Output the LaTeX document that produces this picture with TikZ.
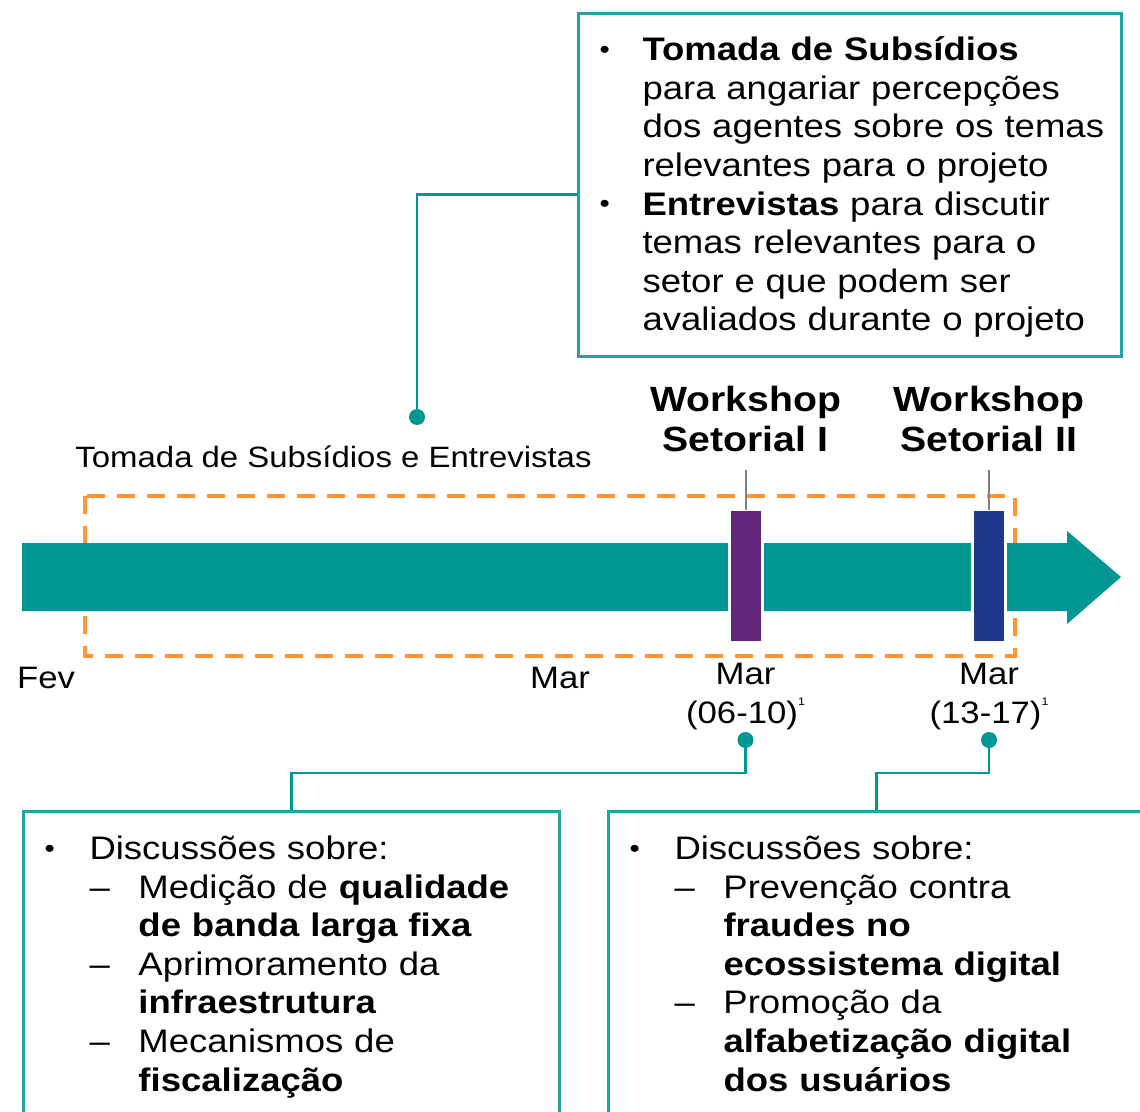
\documentclass[tikz,border=0pt]{standalone}
\usepackage{fontspec}
\setmainfont{Liberation Sans}[FakeStretch=1.12]

\definecolor{tlteal}{RGB}{0,150,146}
\definecolor{tlline}{RGB}{30,165,160}
\definecolor{tlorange}{RGB}{255,150,50}
\definecolor{tlpurple}{RGB}{99,38,125}
\definecolor{tlblue}{RGB}{30,56,140}
\definecolor{tlgray}{RGB}{128,128,128}

\newcommand\boxfont{\fontsize{16.3}{19.3}\selectfont}
\newcommand\labelfont{\fontsize{14.7}{17}\selectfont}
\newcommand\wsfont{\fontsize{17.5}{20}\selectfont\bfseries}
\newcommand\monthfont{\fontsize{15.5}{19.5}\selectfont}
\newcommand\supone{\raisebox{1.1ex}{\fontsize{5.5}{6}\selectfont 1}}
\newcommand\tlbullet{\raisebox{1.1pt}{\scalebox{0.8}{\textbullet}}}
\newcommand\lowered[1]{\raisebox{-1.5pt}[\height][\depth]{#1}}

\begin{document}
\begin{tikzpicture}[x=0.5pt,y=-0.5pt,
  infobox/.style={draw=tlline, line width=1.5pt, anchor=north west, inner xsep=10.5pt, inner ysep=0pt, align=left, font=\boxfont},
  conndot/.style={circle, fill=tlteal, inner sep=0pt, minimum size=8pt},
  link/.style={draw=tlteal, line width=1.3pt},
  wstick/.style={draw=tlgray, line width=1pt},
  periodbox/.style={draw=tlorange, line width=2pt, dash pattern=on 9pt off 6pt},
  wsbar/.style={draw=white, line width=1.5pt, minimum width=16.5pt, minimum height=66.5pt, inner sep=0pt},
  wslabel/.style={font=\wsfont, align=center, anchor=south, inner xsep=0pt, inner ysep=8.75pt},
  month/.style={font=\monthfont, align=center, inner sep=0pt}]
\useasboundingbox (0,0) rectangle (1140,1112);
\clip (0,0) rectangle (1140,1112);

% consulta publica
\node[infobox, text width=250.5pt, minimum height=171.5pt] (sub) at (577,12) {\lowered{%
\begin{tabular}{@{}p{21.5pt}@{}l@{}}
\tlbullet & \textbf{Tomada de Subsídios}\\
 & para angariar percepções\\
 & dos agentes sobre os temas\\
 & relevantes para o projeto\\
\tlbullet & \textbf{Entrevistas} para discutir\\
 & temas relevantes para o\\
 & setor e que podem ser\\
 & avaliados durante o projeto
\end{tabular}}};
\node[conndot] (dsub) at (417,417) {};
\draw[link] ([yshift=-4.75pt]sub.west) -| (dsub);
\node[font=\labelfont, anchor=west, inner sep=0pt] (period) at (75,457) {Tomada de Subsídios e Entrevistas};

% linha do tempo
\draw[periodbox] (85,496) rectangle (1015,656);
\fill[tlteal] (22,543) -- (1067,543) -- (1067,531) -- (1121,577) -- (1067,624) -- (1067,611) -- (22,611) -- cycle;
\node[month] (fev) at (46,678) {Fev};
\node[month] (mar) at (560,678) {Mar};

% workshops
\foreach \w/\x/\wcol/\wnum/\wdate in {1/745.5/tlpurple/I/06-10, 2/989/tlblue/II/13-17}{
  \node[wsbar, fill=\wcol] (ws\w) at (\x,576) {};
  \node[wslabel] (wsl\w) at (\x,470) {Workshop\\Setorial \wnum};
  \draw[wstick] (wsl\w.south) -- ([yshift=-0.75pt]ws\w.north);
  \node[month] (m\w) at (\x,697) {Mar\\(\wdate)\supone};
  \node[conndot] (wsd\w) at (\x,740) {};
}

% discussoes
\node[infobox, text width=247pt, minimum height=153pt] (lbox) at (22,810) {\lowered{%
\begin{tabular}{@{}p{22.5pt}@{}p{24.5pt}@{}l@{}}
\tlbullet & \multicolumn{2}{@{}l@{}}{Discussões sobre:}\\
 & -- & Medição de \textbf{qualidade}\\
 & & \textbf{de banda larga fixa}\\
 & -- & Aprimoramento da\\
 & & \textbf{infraestrutura}\\
 & -- & Mecanismos de\\
 & & \textbf{fiscalização}
\end{tabular}}};
\node[infobox, text width=247pt, minimum height=153pt] (rbox) at (607,810) {\lowered{%
\begin{tabular}{@{}p{22.5pt}@{}p{24.5pt}@{}l@{}}
\tlbullet & \multicolumn{2}{@{}l@{}}{Discussões sobre:}\\
 & -- & Prevenção contra\\
 & & \textbf{fraudes no}\\
 & & \textbf{ecossistema digital}\\
 & -- & Promoção da\\
 & & \textbf{alfabetização digital}\\
 & & \textbf{dos usuários}
\end{tabular}}};
\draw[link] (wsd1) -- ++(0,33) -| (lbox.north);
\draw[link] (wsd2) -- ++(0,33) -| (rbox.north);
\end{tikzpicture}
\end{document}
